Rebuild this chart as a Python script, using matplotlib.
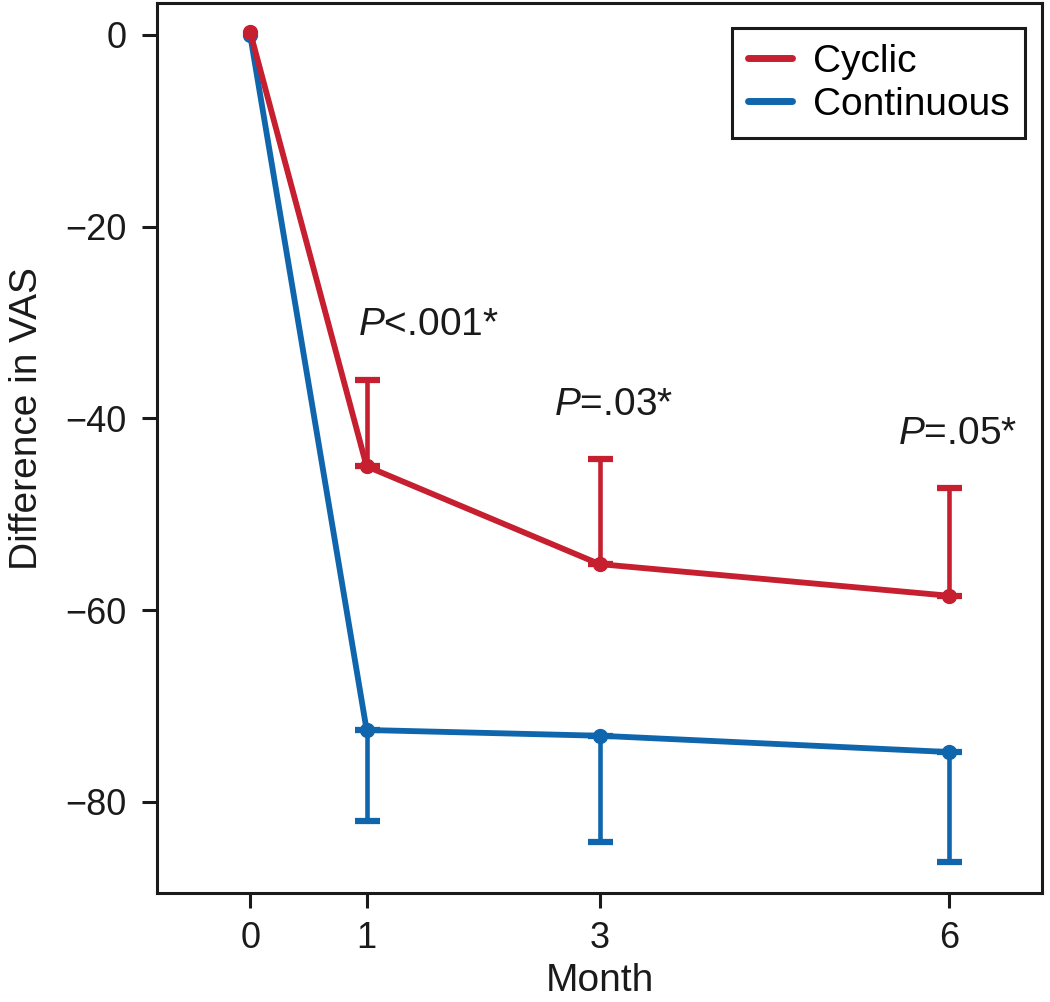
import numpy as np
import matplotlib
matplotlib.use("Agg")
import matplotlib.pyplot as plt

plt.rcParams['font.family'] = ['Liberation Sans', 'DejaVu Sans']
plt.rcParams['mathtext.fontset'] = 'custom'
plt.rcParams['mathtext.rm'] = 'Liberation Sans'
plt.rcParams['mathtext.it'] = 'Liberation Sans:italic'

# data
months = [0, 1, 3, 6]
cyclic = [0.3, -45.0, -55.2, -58.5]
continuous = [0.0, -72.5, -73.1, -74.8]
err_months = [1, 3, 6]
cyclic_err_up = [9.0, 11.0, 11.2]
continuous_err_down = [9.5, 11.1, 11.5]
p_labels = ["$\\mathit{P}$<.001*", "$\\mathit{P}$=.03*", "$\\mathit{P}$=.05*"]
p_x = [1.53, 3.12, 6.07]
p_y = [-30.3, -38.6, -41.6]

RED = "#C61F30"
BLUE = "#1066AC"
INK = "#1a1a1a"

fig = plt.figure(figsize=(10.5, 10.02), dpi=100)
ax = fig.add_axes([0.1495, 0.1088, 0.843, 0.888])

# one-sided error bars
ax.errorbar(err_months, cyclic[1:], yerr=[np.zeros(3), cyclic_err_up],
            fmt='none', ecolor=RED, elinewidth=3.3, capsize=9, capthick=4.5, zorder=2)
ax.errorbar(err_months, continuous[1:], yerr=[continuous_err_down, np.zeros(3)],
            fmt='none', ecolor=BLUE, elinewidth=3.3, capsize=9, capthick=4.5, zorder=2)

ax.plot(months, continuous, color=BLUE, lw=4.2, marker='o', ms=10,
        solid_capstyle='round', zorder=3)
ax.plot(months, cyclic, color=RED, lw=4.2, marker='o', ms=10,
        solid_capstyle='round', zorder=4)

for lab, x, y in zip(p_labels, p_x, p_y):
    ax.text(x, y, lab, fontsize=28, ha='center', va='center', color=INK)

ax.set_xlim(-0.8, 6.8)
ax.set_ylim(-89.5, 3.3)
ax.set_xticks(months)
ax.set_yticks([0, -20, -40, -60, -80])
ax.tick_params(axis='both', direction='out', length=11, width=2.2, labelsize=26,
               colors=INK)
ax.tick_params(axis='x', pad=9)
ax.tick_params(axis='y', pad=11)
for s in ax.spines.values():
    s.set_linewidth(2.2)
    s.set_color(INK)

ax.set_xlabel("Month", fontsize=28, color=INK)
ax.xaxis.set_label_coords(0.5, -0.079)
ax.set_ylabel("Difference in VAS", fontsize=28, color=INK)
ax.yaxis.set_label_coords(-0.127, 0.533)

leg = ax.legend([plt.Line2D([], [], color=RED, lw=5, solid_capstyle='round'),
                 plt.Line2D([], [], color=BLUE, lw=5, solid_capstyle='round')],
                ['Cyclic', 'Continuous'], loc='upper right', fontsize=28,
                frameon=True, fancybox=False, edgecolor=INK, framealpha=1,
                handlelength=1.13, handletextpad=0.55, borderpad=0.4,
                labelspacing=0.18, borderaxespad=0,
                bbox_to_anchor=(0.981, 0.972))
leg.get_frame().set_linewidth(2.2)

fig.savefig("out.png", dpi=100)
